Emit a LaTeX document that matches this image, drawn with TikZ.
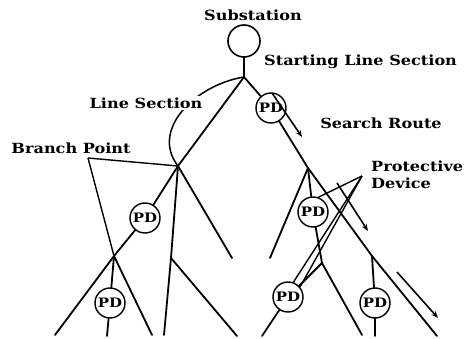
\documentclass[tikz,border=0pt]{standalone}
\usepackage{fontspec}
\setmainfont{DejaVu Serif}[FakeStretch=1.15]
\usetikzlibrary{arrows.meta}
\begin{document}
\begin{tikzpicture}[x=1pt,y=-1pt,
  wire/.style={line width=1.8pt,line cap=round},
  pdev/.style={circle,draw,line width=1.4pt,minimum size=30pt,inner sep=0pt,
    font=\bfseries\fontsize{13}{13}\selectfont},
  lbl/.style={font=\bfseries\fontsize{14}{14}\selectfont,inner sep=1pt},
  ptr/.style={line width=1.4pt},
  route/.style={line width=1.6pt,-{Stealth[length=7pt,width=5.5pt]}}]
\useasboundingbox (0,0) rectangle (472,339);

% substation and feeder root
\node[circle,draw,line width=1.6pt,minimum size=32pt,inner sep=0pt] (sub) at (244,41) {};
\coordinate (root) at (244,77);

% branch points
\coordinate (B1) at (178,166);
\coordinate (B2) at (308,168);
\coordinate (B3) at (114,256);
\coordinate (B4) at (322,263);
\coordinate (M1) at (171,258);
\coordinate (M2) at (372,256);

% protective devices
\node[pdev] (pd1) at (271,108) {PD};
\node[pdev] (pd2) at (145,218) {PD};
\node[pdev] (pd3) at (110,303) {PD};
\node[pdev] (pd4) at (313,212) {PD};
\node[pdev] (pd5) at (288,297) {PD};
\node[pdev] (pd6) at (375,303) {PD};

% line ends
\coordinate (e1) at (55,335);
\coordinate (e2) at (107,336);
\coordinate (e3) at (152,335);
\coordinate (e4) at (164,335);
\coordinate (e5) at (237,336);
\coordinate (e6) at (232,258);
\coordinate (e7) at (270,258);
\coordinate (e8) at (262,336);
\coordinate (e9) at (362,335);
\coordinate (e10) at (375,336);
\coordinate (e11) at (437,336);

% feeder lines
\draw[wire] (sub) -- (root);
\draw[wire] (root) -- (B1);
\draw[wire] (root) -- (pd1) -- (B2);
\draw[wire] (B1) -- (pd2) -- (B3);
\draw[wire] (B3) -- (e1);
\draw[wire] (B3) -- (pd3) -- (e2);
\draw[wire] (B3) -- (e3);
\draw[wire] (B1) -- (M1) -- (e4);
\draw[wire] (M1) -- (e5);
\draw[wire] (B1) -- (e6);
\draw[wire] (B2) -- (e7);
\draw[wire] (B2) -- (pd4) -- (B4);
\draw[wire] (B4) -- (pd5) -- (e8);
\draw[wire] (B4) -- (e9);
\draw[wire] (B2) -- (M2) -- (e11);
\draw[wire] (M2) -- (pd6) -- (e10);

% line section arc
\draw[ptr,line width=1.5pt] (root) .. controls (195,85) and (150,130) .. (B1);

% labels
\node[lbl] (tsub) at (253,15) {Substation};
\node[lbl,anchor=west] (tsls) at (263,62) {Starting Line Section};
\node[lbl,fill=white,inner sep=2pt] (tls) at (146,103) {Line Section};
\node[lbl] (tsr) at (381,123) {Search Route};
\node[lbl] (tbp) at (71,148) {Branch Point};
\node[lbl,anchor=west,align=left,font=\bfseries\fontsize{14}{17}\selectfont] (tpd) at (370,175) {Protective\\Device};

% label pointers
\coordinate (bpa) at (88,158);
\draw[ptr] (bpa) -- (B1);
\draw[ptr] (bpa) -- (B3);
\coordinate (pda) at (362,176);
\draw[ptr] (pda) -- (pd4.70);
\draw[ptr] (pda) -- (pd5.40);
\draw[ptr] (pda) -- (pd5.70);

% search route arrows
\coordinate (r1a) at (272,93);
\coordinate (r1b) at (302,137);
\coordinate (r2a) at (337,183);
\coordinate (r2b) at (368,231);
\coordinate (r3a) at (397,272);
\coordinate (r3b) at (438,318);
\draw[route] (r1a) -- (r1b);
\draw[route] (r2a) -- (r2b);
\draw[route] (r3a) -- (r3b);
\end{tikzpicture}
\end{document}
